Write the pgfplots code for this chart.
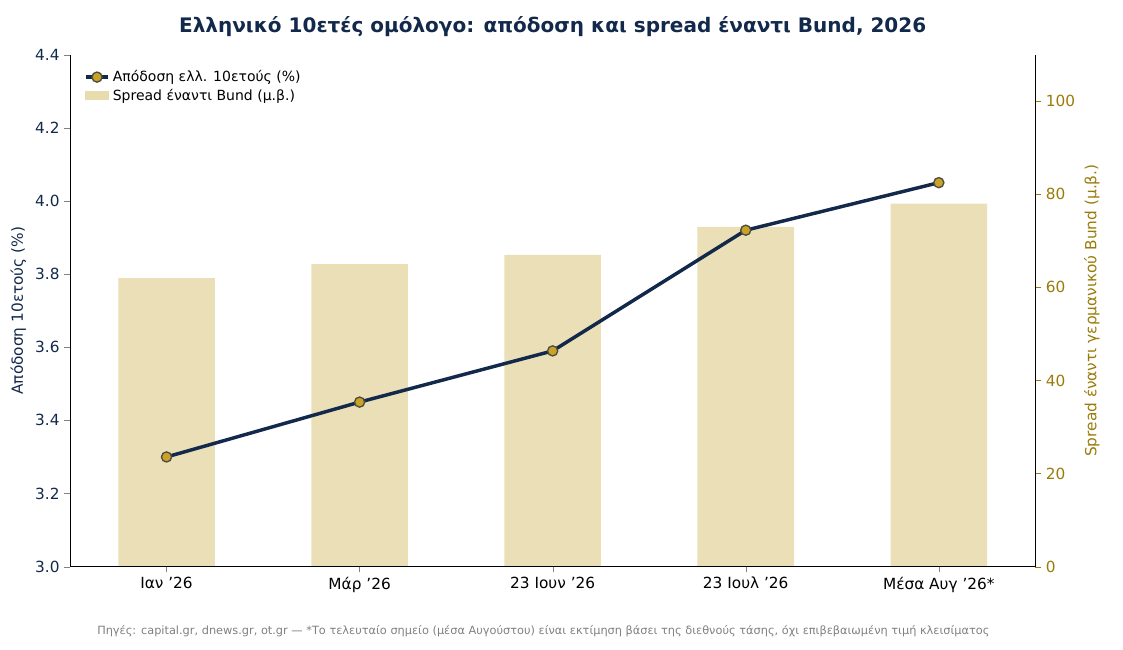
\documentclass[border=0pt]{standalone}
\usepackage{pgfplots}
\pgfplotsset{compat=1.18}
\usepackage{fontspec}
\setmainfont{DejaVu Sans}
\definecolor{navy}{HTML}{13294B}
\definecolor{barc}{HTML}{E8DCAE}
\definecolor{mk}{HTML}{C9A227}
\definecolor{olive}{HTML}{9A7B0A}
\newcommand{\q}{\symbol{"27}}
\begin{document}
\begin{tikzpicture}
\path[use as bounding box] (-52.5pt,-62pt) rectangle (789.75pt,425pt);
\begin{axis}[at={(0,0)},anchor=south west,scale only axis,width=724pt,height=384pt,
 xmin=-0.5,xmax=4.5,ymin=0,ymax=110,axis y line*=right,axis x line=none,
 ytick={0,20,40,60,80,100},tick label style={font=\fontsize{11.5}{13}\selectfont},
 tick align=outside,
 yticklabel style={olive},y axis line style={black},ytick style={olive},
 ylabel={Spread έναντι γερμανικού Bund (μ.β.)},ylabel style={olive,font=\fontsize{11.5}{13}\selectfont},
 /pgf/number format/assume math mode=true]
\addplot[ybar,bar width=0.5,fill=barc,draw=none,opacity=0.9] coordinates {(0,62)(1,65)(2,67)(3,73)(4,78)};
\end{axis}
\begin{axis}[at={(0,0)},anchor=south west,scale only axis,width=724pt,height=384pt,
 xmin=-0.5,xmax=4.5,ymin=3.0,ymax=4.4,axis y line*=left,axis x line*=bottom,
 tick align=outside,
 xtick={0,1,2,3,4},xticklabels={Ιαν \q26,Μάρ \q26,23 Ιουν \q26,23 Ιουλ \q26,Μέσα Αυγ \q26*},
 ytick={3.0,3.2,3.4,3.6,3.8,4.0,4.2,4.4},yticklabel style={navy,/pgf/number format/fixed,/pgf/number format/fixed zerofill,/pgf/number format/precision=1},
 tick label style={font=\fontsize{11.5}{13}\selectfont},
 ylabel={Απόδοση 10ετούς (\%)},ylabel style={navy,font=\fontsize{11.5}{13}\selectfont},
 /pgf/number format/assume math mode=true,
 legend style={draw=none,fill=none,at={(0.01,0.98)},anchor=north west,font=\fontsize{10.5}{13}\selectfont},
 legend cell align=left,
 title={\textbf{Ελληνικό 10ετές ομόλογο: απόδοση και spread έναντι Bund, 2026}},
 title style={navy,font=\fontsize{15}{17}\selectfont,yshift=4pt}]
\addplot[navy,line width=2.6pt,mark=*,mark size=3.8pt,mark options={fill=mk,draw=navy!70!mk,line width=1pt}] coordinates {(0,3.30)(1,3.45)(2,3.59)(3,3.92)(4,4.05)};
\addlegendentry{Απόδοση ελλ. 10ετούς (\%)}
\addlegendimage{legend image code/.code={\fill[barc] (0cm,-0.1cm) rectangle (0.6cm,0.12cm);}}
\addlegendentry{Spread έναντι Bund (μ.β.)}
\end{axis}
\node[gray,font=\fontsize{8.5}{10}\selectfont] at (355pt,-48pt) {Πηγές: capital.gr, dnews.gr, ot.gr — *Το τελευταίο σημείο (μέσα Αυγούστου) είναι εκτίμηση βάσει της διεθνούς τάσης, όχι επιβεβαιωμένη τιμή κλεισίματος};
\end{tikzpicture}
\end{document}
